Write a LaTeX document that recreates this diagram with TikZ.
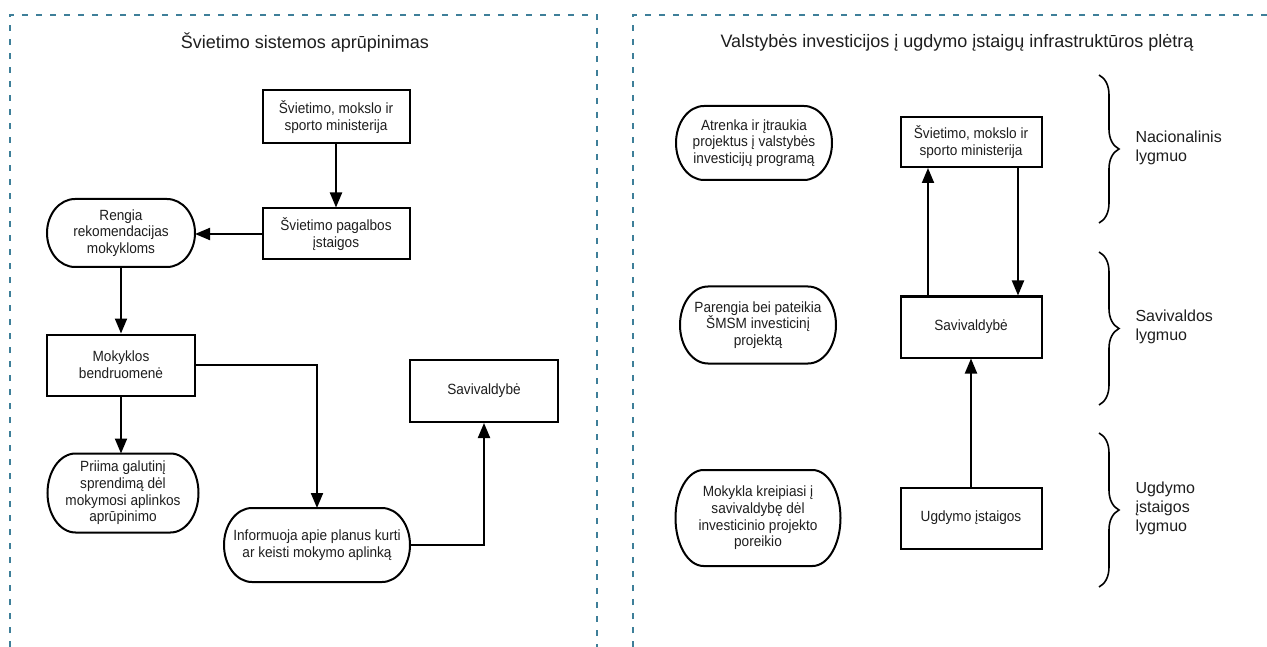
\documentclass[tikz,border=0pt]{standalone}
\usepackage{fontspec}
\setmainfont{Liberation Sans}
\newfontfamily\boxfont[FakeStretch=0.92]{Liberation Sans}
\usetikzlibrary{arrows.meta,decorations.pathreplacing}
\definecolor{dashc}{HTML}{3E7F99}
\definecolor{txt}{HTML}{1E1E1E}
\newcommand\pillborder[3]{\draw[pline] ([xshift=#2]#1.north west) -- ([xshift=-#2]#1.north east) arc[start angle=90,end angle=-90,x radius=#2,y radius=#3] -- ([xshift=#2]#1.south west) arc[start angle=270,end angle=90,x radius=#2,y radius=#3] -- cycle;}
\begin{document}
\begin{tikzpicture}[x=1pt,y=-1pt,
 box/.style={draw=black,line width=2pt,align=center,font=\boxfont\fontsize{14.8}{16.6}\selectfont,text=txt,inner sep=2pt},
 pill/.style={box,draw=none,outer sep=0pt},
 pline/.style={draw=black,line width=2pt},
 arr/.style={line width=2pt,-{Triangle[length=15pt,width=12pt]}},
 frame/.style={draw=dashc,line width=1.4pt,dash pattern=on 6pt off 8pt},
 brc/.style={decorate,decoration={brace,amplitude=20pt},line width=1.6pt},
 lvl/.style={anchor=west,align=left,font=\fontsize{16}{19}\selectfont,text=txt},
 ttl/.style={font=\fontsize{18}{21}\selectfont,text=txt}]
\useasboundingbox (0,0) rectangle (1267,647);
\fill[white] (0,0) rectangle (1267,647);
% frames
\draw[frame] (10,647) -- (10,15) -- (597,15) -- (597,647);
\draw[frame] (633,647) -- (633,15) -- (1267,15);
% titles
\node[ttl] (t1) at (305,43) {Švietimo sistemos aprūpinimas};
\node[ttl] (t2) at (957,43) {Valstybės investicijos į ugdymo įstaigų infrastruktūros plėtrą};
% left panel
\node[box,minimum width=147pt,minimum height=53pt] (min1) at (336,117) {Švietimo, mokslo ir\\sporto ministerija};
\node[box,minimum width=147pt,minimum height=51pt] (pag) at (336,234) {Švietimo pagalbos\\įstaigos};
\node[pill,minimum width=148pt,minimum height=68pt] (rengia) at (121,233) {Rengia\\rekomendacijas\\mokykloms};
\pillborder{rengia}{28pt}{34pt}
\node[box,minimum width=148pt,minimum height=61pt] (mok) at (121,365) {Mokyklos\\bendruomenė};
\node[box,minimum width=148pt,minimum height=62pt] (sav1) at (484,391) {Savivaldybė};
\node[pill,minimum width=151pt,minimum height=79pt] (priima) at (123,493) {Priima galutinį\\sprendimą dėl\\mokymosi aplinkos\\aprūpinimo};
\pillborder{priima}{28pt}{39.5pt}
\node[pill,minimum width=186pt,minimum height=74pt] (inf) at (317,545) {Informuoja apie planus kurti\\ar keisti mokymo aplinką};
\pillborder{inf}{28pt}{37pt}
\draw[arr] (min1) -- (pag);
\draw[arr] (pag.west) -- (pag.west -| rengia.east);
\draw[arr] (rengia) -- (mok);
\draw[arr] (mok.south) -- (mok.south |- priima.north);
\draw[arr] (mok.east) -| (inf.north);
\draw[arr] (inf.east) -| (sav1.south);
% right panel
\node[pill,minimum width=156pt,minimum height=74pt] (atr) at (754,143) {Atrenka ir įtraukia\\projektus į valstybės\\investicijų programą};
\pillborder{atr}{28pt}{37pt}
\node[pill,minimum width=156pt,minimum height=77pt] (par) at (758,325) {Parengia bei pateikia\\ŠMSM investicinį\\projektą};
\pillborder{par}{28pt}{38.5pt}
\node[pill,minimum width=165pt,minimum height=96pt] (mkl) at (758,518) {Mokykla kreipiasi į\\savivaldybę dėl\\investicinio projekto\\poreikio};
\pillborder{mkl}{28pt}{48pt}
\node[box,minimum width=141pt,minimum height=50pt] (min2) at (971,142) {Švietimo, mokslo ir\\sporto ministerija};
\node[box,minimum width=141pt,minimum height=61pt] (sav2) at (971,327) {Savivaldybė};
\node[box,minimum width=141pt,minimum height=61pt] (ugd) at (971,518) {Ugdymo įstaigos};
\draw[arr] ([xshift=-43pt]sav2.north) -- ([xshift=-43pt]min2.south);
\draw[arr] ([xshift=47pt]min2.south) -- ([xshift=47pt]sav2.north);
\draw[arr] (ugd) -- (sav2);
% braces
\coordinate (b1a) at (1099,75);
\coordinate (b1b) at (1099,223);
\coordinate (b2a) at (1099,252);
\coordinate (b2b) at (1099,405);
\coordinate (b3a) at (1099,433);
\coordinate (b3b) at (1099,587);
\draw[brc] (b1a) -- (b1b);
\draw[brc] (b2a) -- (b2b);
\draw[brc] (b3a) -- (b3b);
\node[lvl] (l1) at (1132,148) {Nacionalinis\\lygmuo};
\node[lvl] (l2) at (1132,327) {Savivaldos\\lygmuo};
\node[lvl] (l3) at (1132,508) {Ugdymo\\įstaigos\\lygmuo};
\end{tikzpicture}
\end{document}
